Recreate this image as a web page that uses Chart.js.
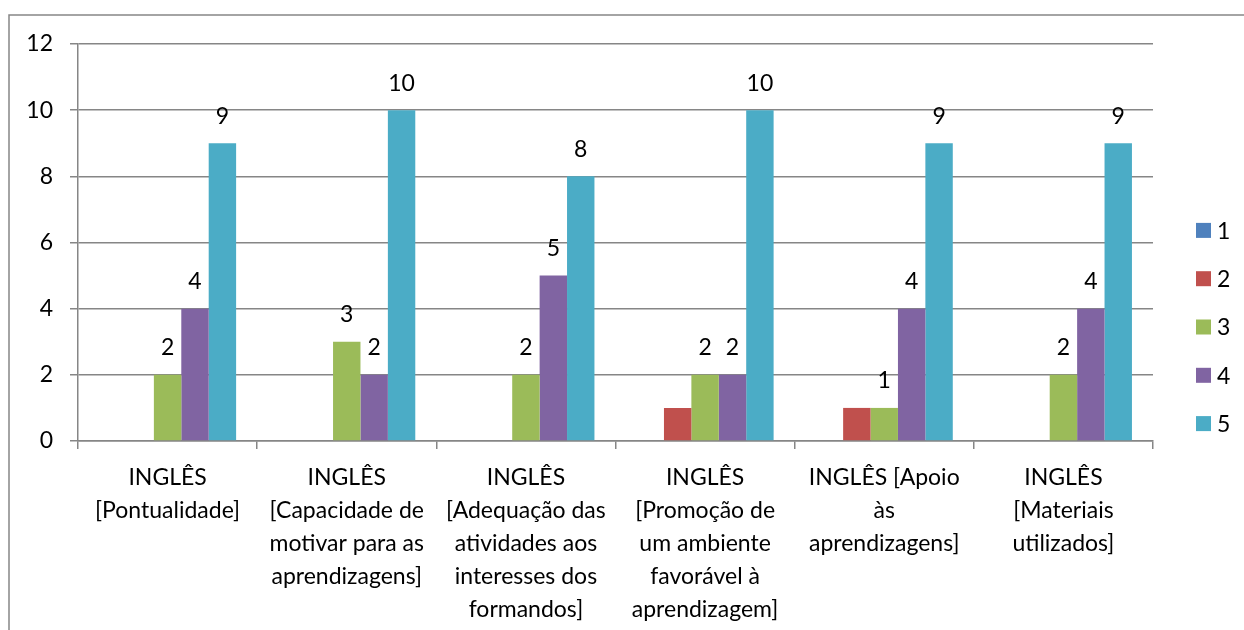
<!DOCTYPE html>
<html>
<head>
<meta charset="utf-8">
<script src="https://cdn.jsdelivr.net/npm/chart.js@4"></script>
<style>
  html, body { margin: 0; padding: 0; background: #fff; }
  #wrap { width: 1244px; height: 630px; position: relative; }
</style>
</head>
<body>
<div id="wrap"><canvas id="chart" width="1244" height="630"></canvas></div>
<script>
// categories (already wrapped the way the original shows them)
const categories = [
    ['INGLÊS', '[Pontualidade]'],
    ['INGLÊS', '[Capacidade de', 'motivar para as', 'aprendizagens]'],
    ['INGLÊS', '[Adequação das', 'atividades aos', 'interesses dos', 'formandos]'],
    ['INGLÊS', '[Promoção de', 'um ambiente', 'favorável à', 'aprendizagem]'],
    ['INGLÊS [Apoio', 'às', 'aprendizagens]'],
    ['INGLÊS', '[Materiais', 'utilizados]']
];

const seriesNames = ['1', '2', '3', '4', '5'];
const seriesColors = ['#4F81BD', '#C0504D', '#9BBB59', '#8064A2', '#4BACC6'];

const s1 = [0, 0, 0, 0, 0, 0];
const s2 = [0, 0, 0, 1, 1, 0];
const s3 = [2, 3, 2, 2, 1, 2];
const s4 = [4, 2, 5, 2, 4, 4];
const s5 = [9, 10, 8, 10, 9, 9];

// only these series get value labels in the original
const labelledSeries = [2, 3, 4];

const yTicks = [0, 2, 4, 6, 8, 10, 12];

const FONT = 'Lato, "Open Sans", sans-serif';
const FS = 23;
const GRID = '#868686';

// frame lines (original is cropped at right/bottom)
const framePlugin = {
    id: 'frame',
    beforeDraw: (chart) => {
        const ctx = chart.ctx;
        ctx.save();
        ctx.strokeStyle = GRID;
        ctx.lineWidth = 1.5;
        ctx.beginPath();
        ctx.moveTo(9, 630);
        ctx.lineTo(9, 15);
        ctx.lineTo(1244, 15);
        ctx.stroke();
        ctx.restore();
    }
};

// value labels above bars
const valueLabels = {
    id: 'valueLabels',
    afterDatasetsDraw: (chart) => {
        const ctx = chart.ctx;
        ctx.save();
        ctx.font = FS + 'px ' + FONT;
        ctx.fillStyle = '#000';
        ctx.textAlign = 'center';
        ctx.textBaseline = 'middle';
        labelledSeries.forEach(di => {
            const meta = chart.getDatasetMeta(di);
            meta.data.forEach((bar, i) => {
                const v = chart.data.datasets[di].data[i];
                if (!v) return;
                ctx.fillText(String(v), bar.x, bar.y - 27);
            });
        });
        ctx.restore();
    }
};

// legend drawn on the right, centred on the whole figure
const sideLegend = {
    id: 'sideLegend',
    afterDraw: (chart) => {
        const ctx = chart.ctx;
        const n = chart.data.datasets.length;
        const step = 48.3;
        const midY = 327;
        ctx.save();
        ctx.font = FS + 'px ' + FONT;
        ctx.textBaseline = 'middle';
        ctx.textAlign = 'left';
        chart.data.datasets.forEach((ds, i) => {
            const y = midY + (i - (n - 1) / 2) * step;
            ctx.fillStyle = ds.backgroundColor;
            ctx.fillRect(1196, y - 7.5, 15, 15);
            ctx.fillStyle = '#000';
            ctx.fillText(ds.label, 1217, y + 1);
        });
        ctx.restore();
    }
};

const allSeries = [s1, s2, s3, s4, s5];

new Chart(document.getElementById('chart'), {
    type: 'bar',
    data: {
        labels: categories,
        datasets: allSeries.map((d, i) => ({
            label: seriesNames[i],
            data: d,
            backgroundColor: seriesColors[i],
            borderWidth: 0,
            barPercentage: 1,
            categoryPercentage: 0.765
        }))
    },
    options: {
        responsive: false,
        animation: false,
        devicePixelRatio: 1,
        layout: { padding: { top: 44, right: 91, left: 0, bottom: 0 } },
        plugins: {
            legend: { display: false },
            tooltip: { enabled: false }
        },
        scales: {
            x: {
                grid: {
                    drawOnChartArea: false,
                    offset: true,
                    tickLength: 8,
                    color: GRID,
                    lineWidth: 1.5
                },
                border: { color: GRID, width: 1.5 },
                ticks: {
                    color: '#000',
                    font: { family: FONT, size: FS, lineHeight: 33 / FS },
                    padding: 12,
                    maxRotation: 0,
                    autoSkip: false
                },
                afterFit: (scale) => { scale.height = 189; }
            },
            y: {
                min: 0,
                max: 12,
                afterBuildTicks: (scale) => {
                    scale.ticks = yTicks.map(v => ({ value: v }));
                },
                grid: {
                    color: GRID,
                    lineWidth: 1.5,
                    tickLength: 8
                },
                border: { color: GRID, width: 1.5 },
                ticks: {
                    color: '#000',
                    font: { family: FONT, size: FS },
                    padding: 17
                },
                afterFit: (scale) => { scale.width = 78; }
            }
        }
    },
    plugins: [framePlugin, valueLabels, sideLegend]
});
</script>
</body>
</html>
